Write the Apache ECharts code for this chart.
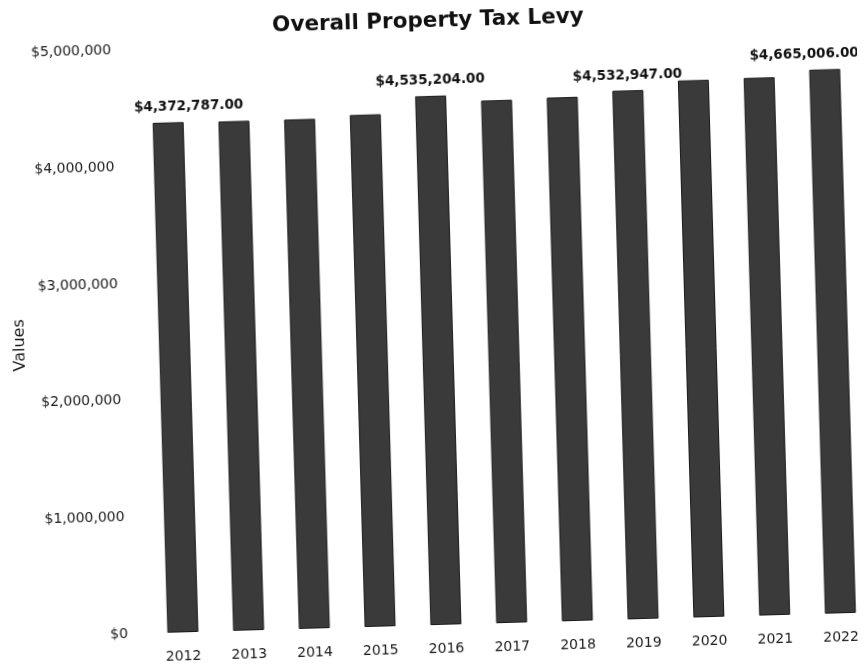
<!DOCTYPE html>
<html>
<head>
<meta charset="utf-8">
<script src="https://cdn.jsdelivr.net/npm/echarts@6/dist/echarts.min.js"></script>
<style>
  html, body { margin: 0; padding: 0; background: #ffffff; }
  #chart { width: 865px; height: 665px; transform: rotate(-1.66deg); transform-origin: 432.5px 332.5px; }
</style>
</head>
<body>
<div id="chart"></div>
<script>
const years = ['2012', '2013', '2014', '2015', '2016', '2017', '2018', '2019', '2020', '2021', '2022'];
const levy = [4372787, 4368000, 4368000, 4391000, 4535204, 4482000, 4491000, 4532947, 4605000, 4610000, 4665006];
const labelledYears = ['2012', '2016', '2019', '2022'];
const yTicks = [0, 1000000, 2000000, 3000000, 4000000, 5000000];

const money = v => '$' + Math.round(v).toLocaleString('en-US');
const labelShift = { '2012': [21, 0], '2022': [-20, 0] };

const barData = levy.map((v, i) => {
  const yr = years[i];
  const item = { value: v };
  if (labelledYears.includes(yr)) {
    item.label = {
      show: true,
      position: 'top',
      distance: 8,
      offset: labelShift[yr] || [0, 0],
      formatter: p => money(p.value) + '.00',
      fontFamily: 'DejaVu Sans',
      fontWeight: 'bold',
      fontSize: 13.5,
      color: '#111111'
    };
  }
  return item;
});

const chart = echarts.init(document.getElementById('chart'));
chart.setOption({
  animation: false,
  backgroundColor: '#ffffff',
  title: {
    text: 'Overall Property Tax Levy',
    left: 432,
    top: 5,
    textAlign: 'center',
    textStyle: { fontFamily: 'DejaVu Sans', fontWeight: 'bold', fontSize: 21.5, color: '#111111' }
  },
  grid: { left: 141.4, top: 41.7, width: 726.7, bottom: 40 },
  xAxis: {
    type: 'category',
    data: years,
    axisLine: { show: false },
    axisTick: { show: false },
    axisLabel: { margin: 17, fontFamily: 'DejaVu Sans', fontSize: 14, color: '#1a1a1a' }
  },
  yAxis: {
    type: 'value',
    min: yTicks[0],
    max: yTicks[yTicks.length - 1],
    interval: yTicks[1] - yTicks[0],
    name: 'Values',
    nameLocation: 'middle',
    nameRotate: 90,
    nameGap: 112,
    nameTextStyle: { fontFamily: 'DejaVu Sans', fontSize: 16, color: '#1a1a1a' },
    axisLine: { show: false },
    axisTick: { show: false },
    splitLine: { show: false },
    axisLabel: { margin: 22, fontFamily: 'DejaVu Sans', fontSize: 14, color: '#1a1a1a', formatter: v => money(v) }
  },
  series: [{
    type: 'bar',
    data: barData,
    barWidth: 31,
    itemStyle: { color: '#3a3a3a', borderColor: '#1a1a1a', borderWidth: 1 }
  }]
});
</script>
</body>
</html>
